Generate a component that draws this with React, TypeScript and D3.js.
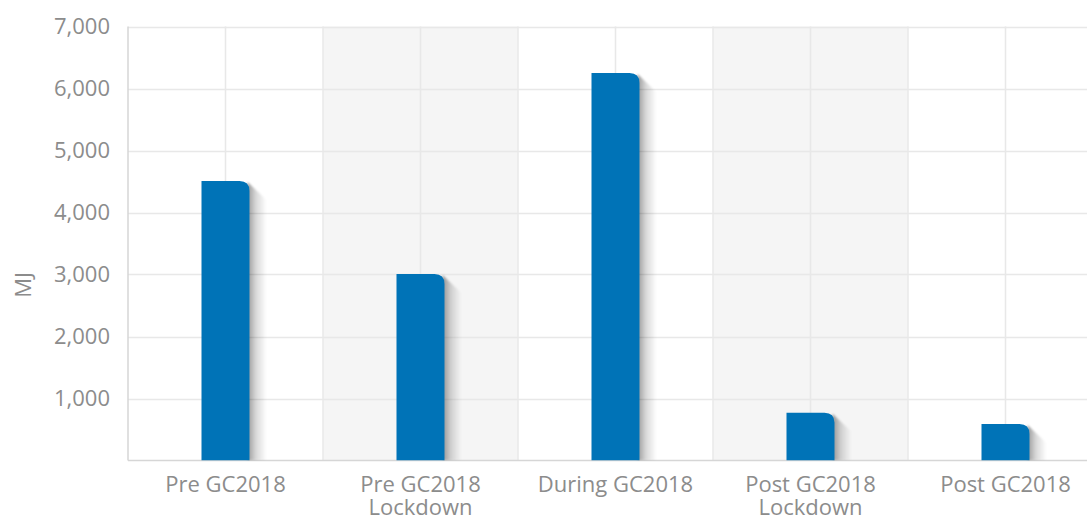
import React from "react";
import * as d3 from "d3";

const categories: string[][] = [
  ["Pre GC2018"],
  ["Pre GC2018", "Lockdown"],
  ["During GC2018"],
  ["Post GC2018", "Lockdown"],
  ["Post GC2018"],
];
const values: number[] = [4510, 3010, 6250, 770, 590];
const yTicks: number[] = [1000, 2000, 3000, 4000, 5000, 6000, 7000];
const yLabel = "MJ";

const W = 1087;
const H = 515;
const left = 128;
const right = 1103;
const top = 26.5;
const bottom = 460.5;
const font = "'Open Sans', 'Noto Sans', sans-serif";
const textColor = "#8c8c8c";
const gridColor = "#e8e8e8";
const barColor = "#0073b7";

export default function App() {
  const keys = categories.map((_, i) => String(i));
  const x = d3.scaleBand<string>().domain(keys).range([left, right]).padding(0);
  const y = d3.scaleLinear().domain([0, 7000]).range([bottom, top]);
  const bw = 48;
  const r = 10;
  const fmt = d3.format(",");

  return (
    <svg
      width={W}
      height={H}
      style={{ position: "fixed", left: 0, top: 0, background: "#fff" }}
    >
      <defs>
        <linearGradient id="shadowGrad" x1="0" x2="1" y1="0" y2="0">
          <stop offset="0" stopColor="#000" stopOpacity={0.4} />
          <stop offset="0.45" stopColor="#000" stopOpacity={0.15} />
          <stop offset="1" stopColor="#000" stopOpacity={0} />
        </linearGradient>
        <filter id="blur" x="-50%" y="-10%" width="200%" height="120%">
          <feGaussianBlur stdDeviation="1.2" />
        </filter>
        <clipPath id="plotClip">
          <rect x={left} y={0} width={right - left} height={bottom} />
        </clipPath>
      </defs>
      {keys.map((k, i) =>
        i % 2 === 1 ? (
          <rect
            key={"band" + k}
            x={x(k)!}
            y={top}
            width={x.bandwidth()}
            height={bottom - top}
            fill="#f5f5f5"
          />
        ) : null
      )}
      {yTicks.map((t) => (
        <line
          key={"h" + t}
          x1={left}
          x2={right}
          y1={Math.round(y(t)) + 0.5}
          y2={Math.round(y(t)) + 0.5}
          stroke={gridColor}
          strokeWidth={1.5}
        />
      ))}
      {keys.map((k, i) => {
        const x0 = x(k)!;
        const xc = x0 + x.bandwidth() / 2;
        return (
          <g key={"v" + k}>
            {i > 0 && (
              <line x1={x0} x2={x0} y1={top} y2={bottom} stroke={gridColor} strokeWidth={1.5} />
            )}
            <line x1={xc} x2={xc} y1={top} y2={bottom} stroke={gridColor} strokeWidth={1.5} />
          </g>
        );
      })}
      <line x1={left} x2={left} y1={top} y2={bottom} stroke="#d6d6d6" strokeWidth={1.5} />
      <line x1={left} x2={right} y1={bottom} y2={bottom} stroke="#d6d6d6" strokeWidth={1.5} />
      <g clipPath="url(#plotClip)">
        {values.map((v, i) => {
          const k = keys[i];
          const xc = x(k)! + x.bandwidth() / 2;
          const x0 = xc - bw / 2;
          const x1 = xc + bw / 2;
          const yt = y(v);
          const rr = Math.min(r, bottom - yt);
          const s = 17;
          const shadow = `M${x1 - 2},${yt + 1} L${x1 + s},${yt + s + 2} L${x1 + s},${bottom} L${x1 - 2},${bottom} Z`;
          const bar = `M${x0},${bottom} L${x0},${yt} L${x1 - rr},${yt} Q${x1},${yt} ${x1},${yt + rr} L${x1},${bottom} Z`;
          return (
            <g key={"bar" + k}>
              <path d={shadow} fill="url(#shadowGrad)" filter="url(#blur)" />
              <path d={bar} fill={barColor} />
            </g>
          );
        })}
      </g>
      {yTicks.map((t) => (
        <text
          key={"yl" + t}
          x={110}
          y={y(t)}
          dy="0.35em"
          textAnchor="end"
          fontFamily={font}
          fontSize={22}
          fill={textColor}
        >
          {fmt(t)}
        </text>
      ))}
      <text
        transform={`translate(31,285) rotate(-90)`}
        textAnchor="middle"
        fontFamily={font}
        fontSize={22}
        fill={textColor}
      >
        {yLabel}
      </text>
      {categories.map((lines, i) => {
        const xc = x(keys[i])! + x.bandwidth() / 2;
        return (
          <text
            key={"cl" + i}
            x={xc}
            y={492}
            textAnchor="middle"
            fontFamily={font}
            fontSize={22}
            fill={textColor}
          >
            {lines.map((ln, j) => (
              <tspan key={j} x={xc} dy={j === 0 ? 0 : 23}>
                {ln}
              </tspan>
            ))}
          </text>
        );
      })}
    </svg>
  );
}
